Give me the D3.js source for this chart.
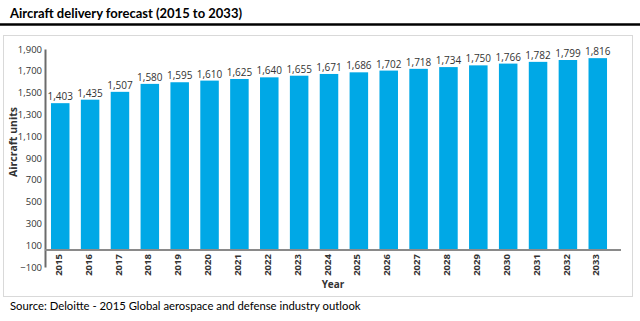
<!DOCTYPE html>
<html>
<head>
<meta charset="utf-8">
<script src="https://cdn.jsdelivr.net/npm/d3@7"></script>
<style>
  body { margin: 0; background: #fff; }
  svg { display: block; }
</style>
</head>
<body>
<div id="chart"></div>
<script>
// data
var years = ["2015","2016","2017","2018","2019","2020","2021","2022","2023","2024",
             "2025","2026","2027","2028","2029","2030","2031","2032","2033"];
var deliveries = [1403,1435,1507,1580,1595,1610,1625,1640,1655,1671,
                  1686,1702,1718,1734,1750,1766,1782,1799,1816];
var yTicks = [-100,100,300,500,700,900,1100,1300,1500,1700,1900];
var axisCross = 55;   // horizontal axis crosses the value axis here

var W = 640, H = 321;
var plot = { left: 45, right: 613, top: 49, bottom: 267 };

var svg = d3.select("#chart").append("svg")
    .attr("width", W)
    .attr("height", H);

// title + rule
svg.append("text")
    .attr("x", 10).attr("y", 18)
    .attr("font-family", "Lato, 'Open Sans', sans-serif")
    .attr("font-weight", "bold")
    .attr("font-size", "13px")
    .attr("fill", "#000")
    .text("Aircraft delivery forecast (2015 to 2033)");

svg.append("line")
    .attr("x1", 0).attr("x2", W)
    .attr("y1", 24.5).attr("y2", 24.5)
    .attr("stroke", "#000")
    .attr("stroke-width", 2.5);

// frame round the chart
svg.append("rect")
    .attr("x", 3.5).attr("y", 35.5)
    .attr("width", 629).attr("height", 261)
    .attr("fill", "none")
    .attr("stroke", "#d9d9d9");

var x = d3.scaleBand()
    .domain(years)
    .range([plot.left, plot.right])
    .paddingInner(0.38)
    .paddingOuter(0.2);

var y = d3.scaleLinear()
    .domain([-100, 1900])
    .range([plot.bottom, plot.top]);

// bars
svg.selectAll("rect.bar")
    .data(deliveries)
    .enter()
    .append("rect")
    .attr("class", "bar")
    .attr("x", function (d, i) { return x(years[i]); })
    .attr("y", function (d) { return y(d); })
    .attr("width", x.bandwidth())
    .attr("height", function (d) { return y(axisCross) - y(d); })
    .attr("fill", "#00a8e6");

// value labels
svg.selectAll("text.val")
    .data(deliveries)
    .enter()
    .append("text")
    .attr("class", "val")
    .attr("x", function (d, i) { return x(years[i]) + x.bandwidth() / 2; })
    .attr("y", function (d) { return y(d) - 3; })
    .attr("text-anchor", "middle")
    .attr("font-family", "'Liberation Sans Narrow', 'Open Sans', sans-serif")
    .attr("font-size", "10px")
    .attr("fill", "#333")
    .text(d3.format(","));

// y axis
var yAxis = d3.axisLeft(y)
    .tickValues(yTicks)
    .tickSize(0)
    .tickPadding(3)
    .tickFormat(d3.format(","));

var gy = svg.append("g")
    .attr("transform", "translate(" + plot.left + ",0)")
    .call(yAxis);
gy.select(".domain")
    .attr("stroke", "#6b6b6b")
    .attr("stroke-width", 2);
gy.selectAll("text")
    .attr("font-family", "'Liberation Sans Narrow', 'Open Sans', sans-serif")
    .attr("font-size", "9.5px")
    .attr("fill", "#333");

// x axis at the crossing value
var xAxis = d3.axisBottom(x).tickSize(0).tickPadding(4);
var gx = svg.append("g")
    .attr("transform", "translate(0," + y(axisCross) + ")")
    .call(xAxis);
gx.select(".domain").remove();
gx.append("line")
    .attr("x1", plot.left).attr("x2", 621)
    .attr("stroke", "#8a8a8a")
    .attr("stroke-width", 2);
gx.selectAll(".tick text")
    .attr("transform", "rotate(-90)")
    .attr("text-anchor", "end")
    .attr("dx", "-4px")
    .attr("dy", "-0.1em")
    .attr("x", 0).attr("y", 0)
    .attr("dominant-baseline", "middle")
    .attr("font-family", "'Liberation Sans Narrow', 'Open Sans', sans-serif")
    .attr("font-weight", "bold")
    .attr("font-size", "9.5px")
    .attr("fill", "#333");

// axis titles
svg.append("text")
    .attr("x", 333).attr("y", 288)
    .attr("text-anchor", "middle")
    .attr("font-family", "'Liberation Sans Narrow', 'Open Sans', sans-serif")
    .attr("font-weight", "bold")
    .attr("font-size", "10px")
    .attr("fill", "#333")
    .text("Year");

svg.append("text")
    .attr("transform", "translate(17,142) rotate(-90)")
    .attr("text-anchor", "middle")
    .attr("font-family", "'Liberation Sans Narrow', 'Open Sans', sans-serif")
    .attr("font-weight", "bold")
    .attr("font-size", "10.5px")
    .attr("fill", "#333")
    .text("Aircraft units");

// source
svg.append("text")
    .attr("x", 10).attr("y", 310)
    .attr("font-family", "Lato, 'Open Sans', sans-serif")
    .attr("font-size", "11.3px")
    .attr("fill", "#000")
    .text("Source: Deloitte - 2015 Global aerospace and defense industry outlook");
</script>
</body>
</html>
